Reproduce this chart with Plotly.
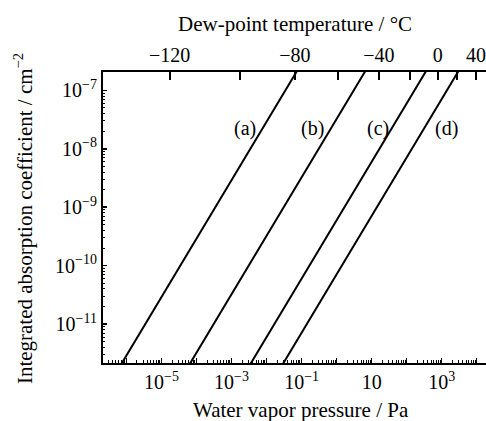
import math
import plotly.graph_objects as go

# ---- data ----
coef_ends = [1e-12, 1e-6]                 # integrated absorption coefficient, cm^-2
press_a = [3.45e-7, 0.345]                # water vapor pressure, Pa
press_b = [3.09e-5, 30.9]
press_c = [1.67e-3, 1675.0]
press_d = [1.41e-2, 14100.0]
series_press = [press_a, press_b, press_c, press_d]
series_names = ["(a)", "(b)", "(c)", "(d)"]

label_press = [2.4e-3, 0.206, 15.5, 1380.0]
label_coef = [2.2e-8, 2.2e-8, 2.2e-8, 2.2e-8]

dew_temps = [-120, -100, -80, -60, -40, -20, 0, 20, 40]
dew_press = [1.7e-5, 1.7e-3, 0.064, 1.1, 16.0, 124.0, 770.0, 2800.0, 9500.0]
dew_labels = ["−120", "", "−80", "", "−40", "", "0", "", "40"]

x_decades = [-6, -5, -4, -3, -2, -1, 0, 1, 2, 3, 4]
x_labels = ["", "10<sup>−5</sup>", "", "10<sup>−3</sup>", "", "10<sup>−1</sup>",
            "", "10", "", "10<sup>3</sup>", ""]
y_decades = [-11, -10, -9, -8, -7]
y_labels = ["10<sup>−11</sup>", "10<sup>−10</sup>", "10<sup>−9</sup>",
            "10<sup>−8</sup>", "10<sup>−7</sup>"]

x_range = [-6.669, 4.265]
y_range = [-11.666, -6.686]

FONT = "Liberation Serif"
FS = 20

x_major = [10.0 ** d for d in x_decades]
x_minor = [k * 10.0 ** d for d in range(-7, 5) for k in range(2, 10)]
y_major = [10.0 ** d for d in y_decades]
y_minor = [k * 10.0 ** d for d in range(-12, -6) for k in range(2, 10)]

fig = go.Figure()
for name, pr in zip(series_names, series_press):
    fig.add_trace(go.Scatter(x=pr, y=coef_ends, mode="lines",
                             line=dict(color="black", width=2),
                             name=name, showlegend=False, hoverinfo="skip"))
# invisible trace to attach the top (dew-point) axis
fig.add_trace(go.Scatter(x=press_a, y=coef_ends, mode="lines", xaxis="x2",
                         line=dict(color="rgba(0,0,0,0)", width=0),
                         showlegend=False, hoverinfo="skip"))

for name, lx, ly in zip(series_names, label_press, label_coef):
    fig.add_annotation(x=math.log10(lx), y=math.log10(ly), xref="x", yref="y",
                       text=name, showarrow=False, xanchor="center", yanchor="middle",
                       font=dict(family=FONT, size=FS, color="black"))

fig.add_annotation(x=0.517, y=-0.163, xref="paper", yref="paper",
                   text="Water vapor pressure / Pa", showarrow=False,
                   xanchor="center", yanchor="middle",
                   font=dict(family=FONT, size=FS + 1, color="black"))
fig.add_annotation(x=0.5, y=1.166, xref="paper", yref="paper",
                   text="Dew-point temperature / °C", showarrow=False,
                   xanchor="center", yanchor="middle",
                   font=dict(family=FONT, size=FS + 1, color="black"))
fig.add_annotation(x=-0.207, y=0.497, xref="paper", yref="paper",
                   text="Integrated absorption coefficient / cm<sup>−2</sup>",
                   showarrow=False, textangle=-90,
                   xanchor="center", yanchor="middle",
                   font=dict(family=FONT, size=FS + 1, color="black"))

axis_common = dict(type="log", showgrid=False, zeroline=False, showline=True,
                   linecolor="black", linewidth=2, tickcolor="black",
                   tickfont=dict(family=FONT, size=FS, color="black"))

fig.update_layout(
    width=486, height=421,
    margin=dict(l=103, r=0, t=72, b=58),
    paper_bgcolor="white", plot_bgcolor="white",
    font=dict(family=FONT, size=FS, color="black"),
    xaxis=dict(**axis_common, range=x_range, tickmode="array",
               tickvals=x_major, ticktext=x_labels, ticks="inside", ticklen=5,
               tickwidth=1.5,
               minor=dict(tickmode="array", tickvals=x_minor, ticks="inside",
                          ticklen=3, tickcolor="black", tickwidth=1)),
    xaxis2=dict(**axis_common, range=x_range, overlaying="x", side="top",
                tickmode="array", tickvals=dew_press, ticktext=dew_labels,
                ticks="inside", ticklen=8, tickwidth=2),
    yaxis=dict(**axis_common, range=y_range, tickmode="array",
               tickvals=y_major, ticktext=y_labels, ticks="inside", ticklen=4,
               tickwidth=1.5,
               minor=dict(tickmode="array", tickvals=y_minor, ticks="inside",
                          ticklen=2, tickcolor="black", tickwidth=1)),
)

# remove the page's default body margin and scrollbars so the figure fills the window
post = ("document.documentElement.style.overflow='hidden';"
        "document.body.style.margin='0';document.body.style.overflow='hidden';")
fig.write_html("out.html", post_script=post,
               config={"displayModeBar": False, "staticPlot": True})
